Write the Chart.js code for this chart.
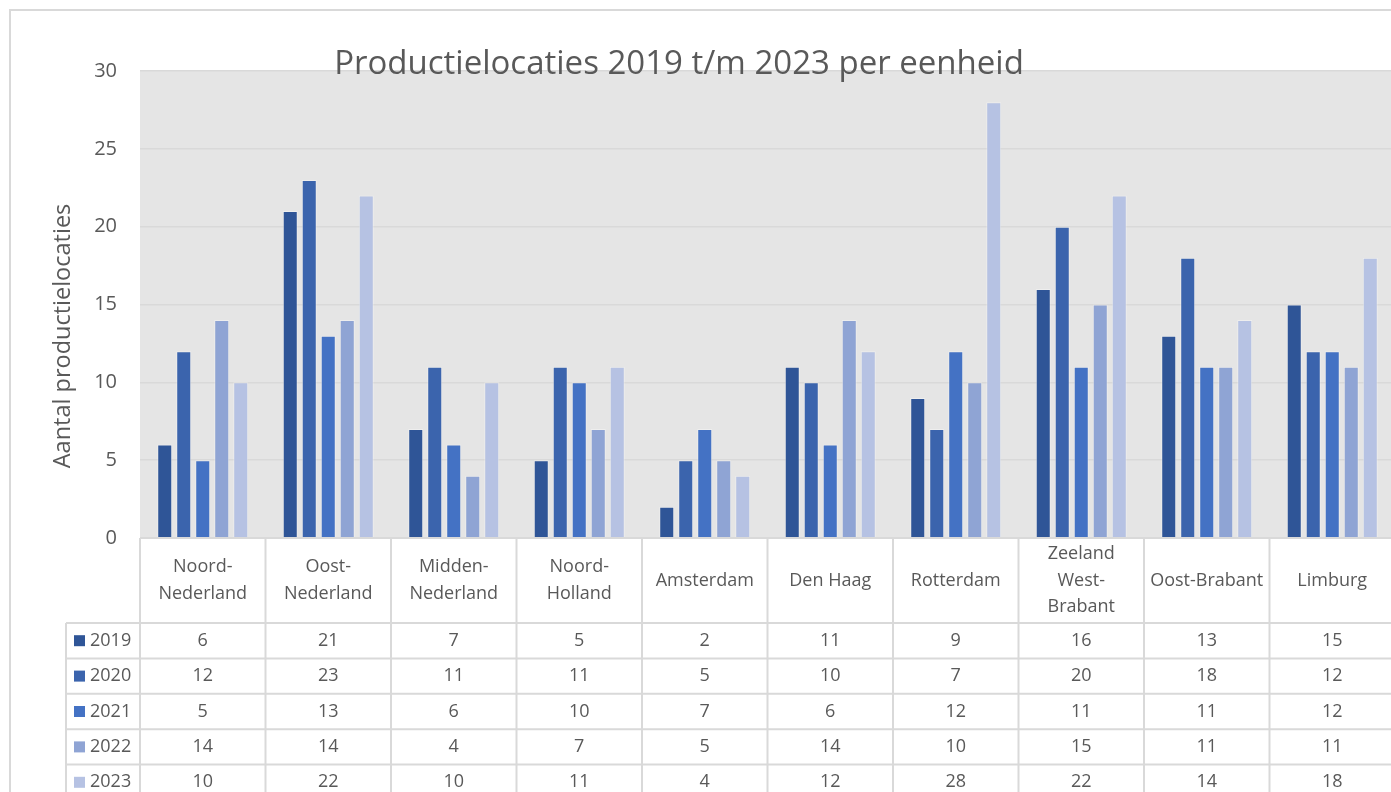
<!DOCTYPE html>
<html>
<head>
<meta charset="utf-8">
<script src="https://cdn.jsdelivr.net/npm/chart.js@4/dist/chart.umd.min.js"></script>
<style>
  html, body { margin: 0; padding: 0; background: #fff; overflow: hidden; }
  #wrap { width: 1391px; height: 792px; overflow: hidden; }
</style>
</head>
<body>
<div id="wrap"><canvas id="chart" width="1420" height="800"></canvas></div>
<script>
// ── Data ──
const categories = [
  ['Noord-', 'Nederland'], ['Oost-', 'Nederland'], ['Midden-', 'Nederland'],
  ['Noord-', 'Holland'], 'Amsterdam', 'Den Haag', 'Rotterdam',
  ['Zeeland', 'West-', 'Brabant'], 'Oost-Brabant', 'Limburg'
];
const years  = ['2019', '2020', '2021', '2022', '2023'];
const v2019  = [6, 21, 7, 5, 2, 11, 9, 16, 13, 15];
const v2020  = [12, 23, 11, 11, 5, 10, 7, 20, 18, 12];
const v2021  = [5, 13, 6, 10, 7, 6, 12, 11, 11, 12];
const v2022  = [14, 14, 4, 7, 5, 14, 10, 15, 11, 11];
const v2023  = [10, 22, 10, 11, 4, 12, 28, 22, 14, 18];
const yTicks = [0, 5, 10, 15, 20, 25, 30];

const chartTitle = 'Productielocaties 2019 t/m 2023 per eenheid';
const yTitle     = 'Aantal productielocaties';

// ── Style ──
const COLORS = ['#2f5597', '#3b64ad', '#4472c4', '#8fa4d4', '#b6c2e3'];
const TEXT   = '#595959';
const LINE   = '#d9d9d9';
const PLOT   = '#e5e5e5';
const FONT   = '"Open Sans", sans-serif';

const series = [v2019, v2020, v2021, v2022, v2023];

// ── Frame, titles and data table (Excel style) ──
const excelFrame = {
  id: 'excelFrame',
  beforeDraw(chart) {
    const { ctx, chartArea: a } = chart;
    ctx.save();
    ctx.fillStyle = PLOT;
    ctx.fillRect(a.left, a.top, a.right - a.left, a.bottom - a.top);
    ctx.strokeStyle = LINE;
    ctx.lineWidth = 2;
    ctx.strokeRect(10, 10, chart.width, chart.height);
    ctx.restore();
  },
  afterDraw(chart) {
    const { ctx, chartArea: a } = chart;
    const x = chart.scales.x;
    const n = categories.length;
    const cw = (x.right - x.left) / n;
    const headTop = a.bottom, headH = 85, rowH = 35.4;
    const rowsTop = headTop + headH;
    const legLeft = 66;

    ctx.save();
    // chart title
    ctx.fillStyle = TEXT;
    ctx.textAlign = 'center';
    ctx.textBaseline = 'middle';
    ctx.font = '33px ' + FONT;
    ctx.fillText(chartTitle, 679, 65);

    // y axis title
    ctx.save();
    ctx.translate(63, 336);
    ctx.rotate(-Math.PI / 2);
    ctx.font = '23.5px ' + FONT;
    ctx.fillText(yTitle, 0, 0);
    ctx.restore();

    // table lines
    ctx.strokeStyle = LINE;
    ctx.lineWidth = 2;
    ctx.beginPath();
    ctx.moveTo(a.left, headTop); ctx.lineTo(chart.width, headTop);
    for (let r = 0; r <= years.length; r++) {
      const y = rowsTop + r * rowH;
      ctx.moveTo(legLeft, y); ctx.lineTo(chart.width, y);
    }
    ctx.moveTo(legLeft, rowsTop); ctx.lineTo(legLeft, chart.height);
    for (let i = 0; i <= n; i++) {
      const xx = x.left + i * cw;
      ctx.moveTo(xx, headTop); ctx.lineTo(xx, chart.height);
    }
    ctx.stroke();

    // category labels
    ctx.font = '18px ' + FONT;
    ctx.fillStyle = TEXT;
    categories.forEach((c, i) => {
      const lines = Array.isArray(c) ? c : [c];
      const cx = x.getPixelForValue(i);
      const lh = 26.5;
      const y0 = headTop + headH / 2 - (lines.length - 1) * lh / 2;
      lines.forEach((l, k) => ctx.fillText(l, cx, y0 + k * lh));
    });

    // rows: legend key + values
    years.forEach((yr, r) => {
      const cy = rowsTop + r * rowH + rowH / 2;
      ctx.fillStyle = COLORS[r];
      ctx.fillRect(74, cy - 5.5, 11, 11);
      ctx.fillStyle = TEXT;
      ctx.textAlign = 'left';
      ctx.fillText(yr, 90, cy);
      ctx.textAlign = 'center';
      series[r].forEach((v, i) => ctx.fillText(String(v), x.getPixelForValue(i), cy));
    });
    ctx.restore();
  }
};

new Chart(document.getElementById('chart').getContext('2d'), {
  type: 'bar',
  data: {
    labels: categories,
    datasets: years.map((yr, i) => ({
      label: yr,
      data: series[i],
      backgroundColor: COLORS[i],
      borderColor: 'rgba(255,255,255,0.35)',
      borderWidth: 1,
      categoryPercentage: 0.757,
      barPercentage: 0.79,
    })),
  },
  options: {
    responsive: false,
    animation: false,
    devicePixelRatio: 1,
    layout: { padding: { top: 71, left: 10, right: 25, bottom: 262 } },
    plugins: {
      legend: { display: false },
      title: { display: false },
      tooltip: { enabled: false },
    },
    scales: {
      x: { display: false },
      y: {
        min: 0, max: 30,
        afterBuildTicks: (s) => { s.ticks = yTicks.map(v => ({ value: v })); },
        afterFit: (s) => { s.width = 130; },
        ticks: { color: TEXT, font: { family: FONT, size: 20 }, padding: 23 },
        grid: { color: LINE, lineWidth: 1.5, drawTicks: false },
        border: { display: false },
      },
    },
  },
  plugins: [excelFrame],
});
</script>
</body>
</html>
